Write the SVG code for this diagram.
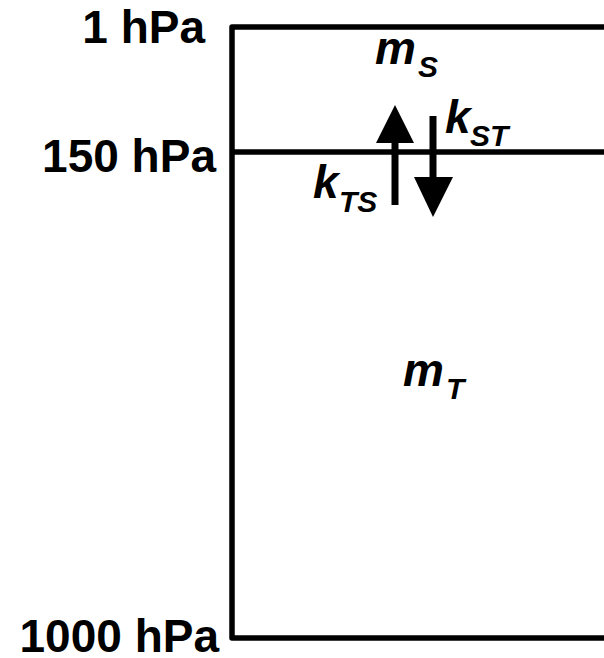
<svg xmlns="http://www.w3.org/2000/svg" width="604" height="658" viewBox="0 0 604 658">
<style>
.lbl{font-family:"Liberation Sans",Arial,sans-serif;font-weight:bold;font-size:46px;fill:#000}
.v{font-family:"Liberation Sans",Arial,sans-serif;font-weight:bold;font-style:italic;font-size:46px;fill:#000}
.s{font-size:30px}
.ln{fill:none;stroke:#000;stroke-width:5.5;stroke-linejoin:round}
</style>
<rect width="604" height="658" fill="#fff"/>
<g id="box">
<path class="ln" d="M604,27 H232 V638 H604"/>
<path class="ln" d="M232,152 H604"/>
</g>
<g id="labels">
<text class="lbl" x="205" y="43" text-anchor="end">1 hPa</text>
<text class="lbl" x="216" y="172" text-anchor="end">150 hPa</text>
<text class="lbl" x="219" y="652" text-anchor="end" font-size="47">1000 hPa</text>
</g>
<g id="mS"><text class="v" x="375" y="64">m<tspan class="s" x="418" y="77">S</tspan></text></g>
<g id="mT"><text class="v" x="403" y="386">m<tspan class="s" x="446" y="399">T</tspan></text></g>
<g id="kST"><text class="v" x="445" y="133">k<tspan class="s" x="470" y="146">ST</tspan></text></g>
<g id="kTS"><text class="v" x="313" y="198">k<tspan class="s" x="339" y="212">TS</tspan></text></g>
<g id="connectors">
<line x1="395" y1="205" x2="395" y2="142" stroke="#000" stroke-width="7"/>
<polygon points="395,105 376,143 414,143" fill="#000"/>
<line x1="433" y1="116" x2="433" y2="178" stroke="#000" stroke-width="7"/>
<polygon points="433,217 414,177 453,177" fill="#000"/>
</g>
</svg>
